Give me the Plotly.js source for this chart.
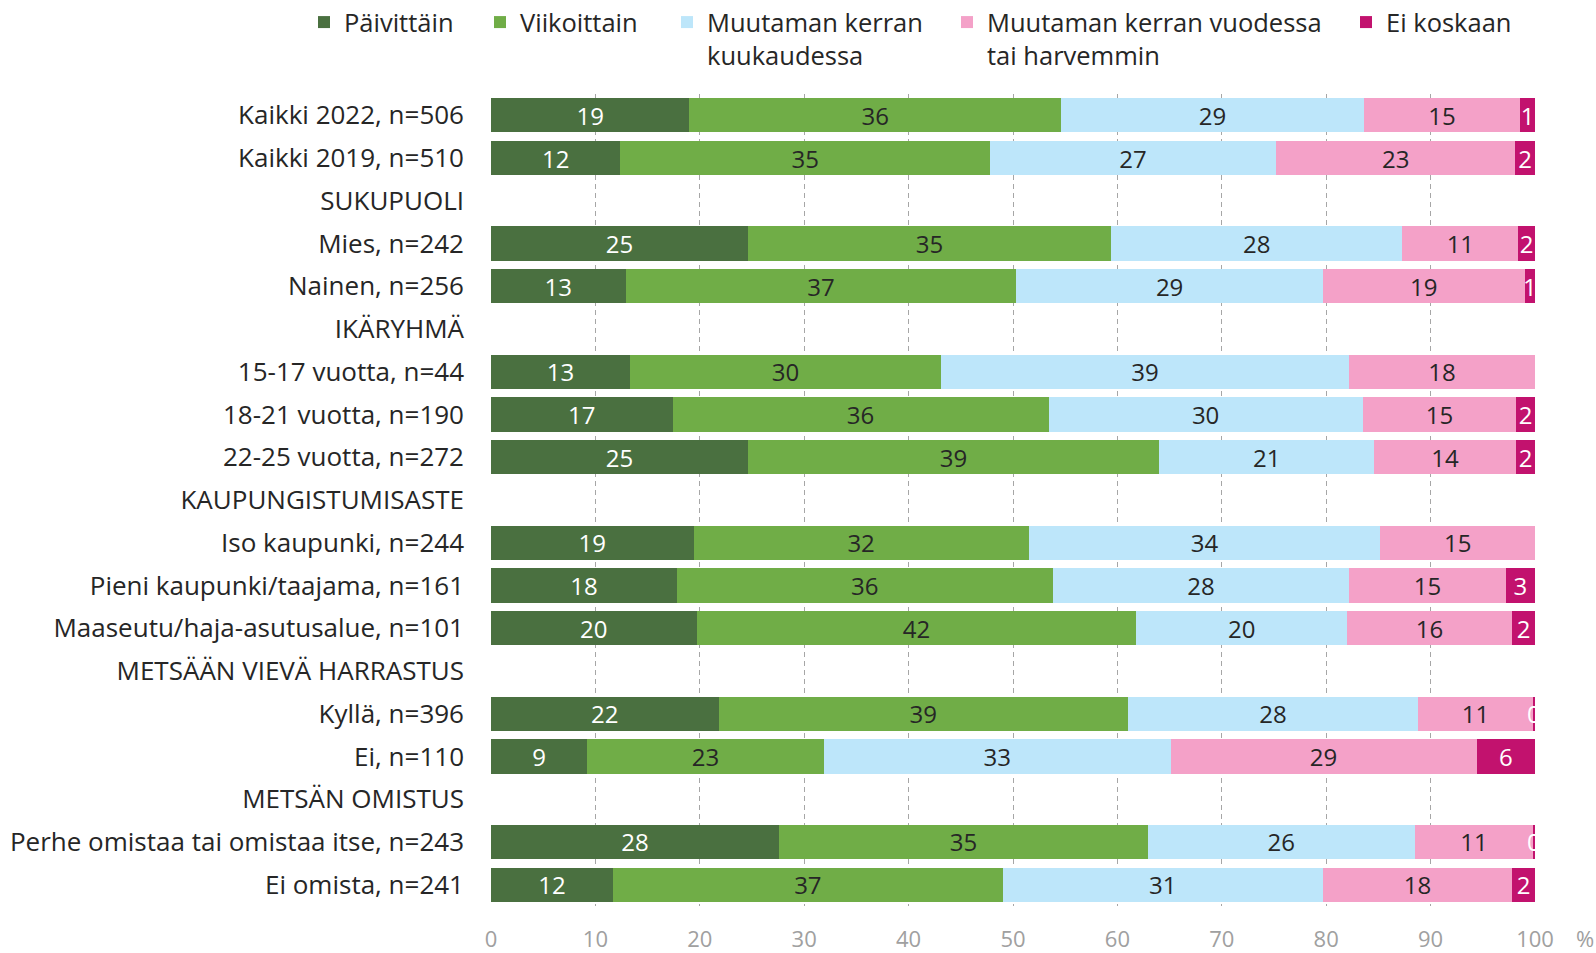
<!DOCTYPE html>
<html>
<head>
<meta charset="utf-8">
<script src="https://cdn.plot.ly/plotly-3.0.1.min.js"></script>
<style>
  html, body { margin: 0; padding: 0; background: #ffffff; }
  #chart { width: 1596px; height: 953px; }
</style>
</head>
<body>
<div id="chart"></div>
<script>
// ---- Data (percent) ----
const categories = [
  "Kaikki 2022, n=506",
  "Kaikki 2019, n=510",
  "SUKUPUOLI",
  "Mies, n=242",
  "Nainen, n=256",
  "IKÄRYHMÄ",
  "15-17 vuotta, n=44",
  "18-21 vuotta, n=190",
  "22-25 vuotta, n=272",
  "KAUPUNGISTUMISASTE",
  "Iso kaupunki, n=244",
  "Pieni kaupunki/taajama, n=161",
  "Maaseutu/haja-asutusalue, n=101",
  "METSÄÄN VIEVÄ HARRASTUS",
  "Kyllä, n=396",
  "Ei, n=110",
  "METSÄN OMISTUS",
  "Perhe omistaa tai omistaa itse, n=243",
  "Ei omista, n=241"
];
const paivittain  = [19.0, 12.4, null, 24.6, 12.9, null, 13.3, 17.4, 24.6, null, 19.4, 17.8, 19.7, null, 21.8,  9.2, null, 27.6, 11.7];
const viikoittain = [35.6, 35.4, null, 34.8, 37.4, null, 29.8, 36.0, 39.4, null, 32.1, 36.0, 42.1, null, 39.2, 22.7, null, 35.3, 37.3];
const kuukaudessa = [29.0, 27.4, null, 27.9, 29.4, null, 39.1, 30.1, 20.6, null, 33.7, 28.4, 20.2, null, 27.8, 33.2, null, 25.6, 30.7];
const vuodessa    = [15.0, 22.9, null, 11.1, 19.3, null, 17.8, 14.7, 13.6, null, 14.8, 15.0, 15.8, null, 11.0, 29.3, null, 11.3, 18.1];
const eiKoskaan   = [ 1.4,  1.9, null,  1.6,  1.0, null, null,  1.8,  1.8, null, null,  2.8,  2.2, null,  0.2,  5.6, null,  0.2,  2.2];

const seriesNames = [
  "Päivittäin",
  "Viikoittain",
  "Muutaman kerran<br>kuukaudessa",
  "Muutaman kerran vuodessa<br>tai harvemmin",
  "Ei koskaan"
];
const xTickValues = [0, 10, 20, 30, 40, 50, 60, 70, 80, 90, 100];

// ---- Styling ----
const FONT = "Open Sans, Lato, sans-serif";
const colors = ["#4a7040", "#70ad47", "#bde6fa", "#f4a1c8", "#c2126e"];
const labelColors = ["#ffffff", "#262626", "#262626", "#262626", "#ffffff"];

const W = 1596, H = 953;
const ML = 491, MR = 61, MT = 94, MB = 47;
const PW = W - ML - MR, PH = H - MT - MB;
const px2x = px => (px - ML) / PW;
const px2y = py => (H - MB - py) / PH;

// legend text start pixel positions
const legendTextX = [344, 520, 707, 987, 1386];
const legendTop = -1;

const allSeries = [paivittain, viikoittain, kuukaudessa, vuodessa, eiKoskaan];
const traces = allSeries.map((vals, i) => ({
  type: "bar",
  orientation: "h",
  name: seriesNames[i],
  y: categories,
  x: vals,
  marker: { color: colors[i], line: { width: 0 } },
  texttemplate: "%{x:.0f}",
  textposition: "inside",
  insidetextanchor: "middle",
  textangle: 0,
  constraintext: "none",
  cliponaxis: true,
  textfont: { family: FONT, size: 24, color: labelColors[i] },
  hoverinfo: "x+y+name",
  legend: i === 0 ? "legend" : "legend" + (i + 1)
}));

const legendBase = (i) => ({
  x: px2x(legendTextX[i] - 40),
  xanchor: "left",
  y: px2y(legendTop),
  yanchor: "top",
  orientation: "h",
  bgcolor: "rgba(0,0,0,0)",
  borderwidth: 0,
  valign: "top",
  itemwidth: 30,
  font: { family: FONT, size: 25.5, color: "#262626" }
});

const layout = {
  width: W,
  height: H,
  margin: { l: ML, r: MR, t: MT, b: MB, pad: 0, autoexpand: false },
  paper_bgcolor: "#ffffff",
  plot_bgcolor: "#ffffff",
  barmode: "stack",
  bargap: 0.2,
  showlegend: true,
  legend: legendBase(0),
  legend2: legendBase(1),
  legend3: legendBase(2),
  legend4: legendBase(3),
  legend5: legendBase(4),
  font: { family: FONT, color: "#262626" },
  xaxis: {
    range: [0, 100],
    tickvals: xTickValues,
    showgrid: true,
    gridcolor: "#a6a6a6",
    gridwidth: 1,
    griddash: "5px,4px",
    zeroline: false,
    showline: false,
    ticks: "",
    ticklabelstandoff: 18,
    tickfont: { family: FONT, size: 22, color: "#a0a0a0" },
    fixedrange: true
  },
  yaxis: {
    type: "category",
    categoryorder: "array",
    categoryarray: categories,
    autorange: "reversed",
    showgrid: false,
    zeroline: false,
    showline: false,
    ticks: "",
    ticklabelstandoff: 26,
    tickfont: { family: FONT, size: 26, color: "#262626" },
    fixedrange: true
  },
  annotations: [{
    text: "%",
    xref: "paper", yref: "paper",
    x: px2x(1574), y: px2y(938),
    xanchor: "left", yanchor: "middle",
    showarrow: false,
    font: { family: FONT, size: 22, color: "#a0a0a0" }
  }]
};

Plotly.newPlot("chart", traces, layout, { displayModeBar: false, staticPlot: true });
</script>
</body>
</html>
